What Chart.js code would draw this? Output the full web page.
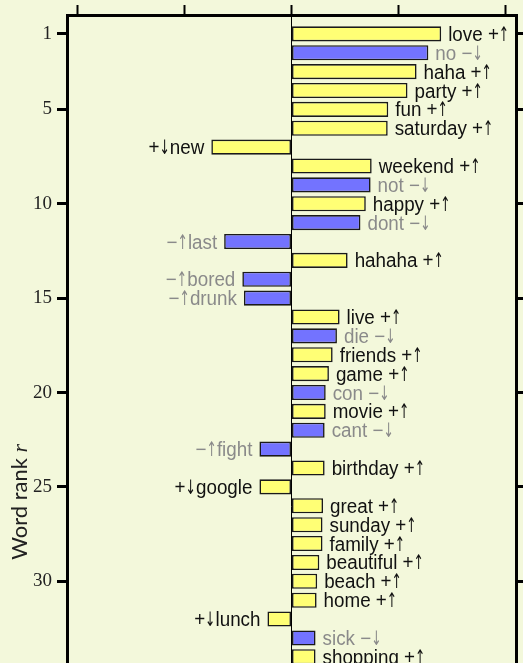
<!DOCTYPE html>
<html>
<head>
<meta charset="utf-8">
<script src="https://cdn.jsdelivr.net/npm/chart.js@4.4.1/dist/chart.umd.min.js"></script>
<style>
  html, body { margin: 0; padding: 0; background: #f3f8db; overflow: hidden; }
  #wrap { position: relative; width: 523px; height: 663px; overflow: hidden; }
  #shiftChart { position: absolute; left: 0; top: -27px; }
</style>
</head>
<body>
<div id="wrap"><canvas id="shiftChart" width="530" height="1040"></canvas></div>
<script>
// word shift: per-word contributions, ranked
const ranks = [1, 2, 3, 4, 5, 6, 7, 8, 9, 10, 11, 12, 13, 14, 15, 16, 17,
    18, 19, 20, 21, 22, 23, 24, 25, 26, 27, 28, 29, 30, 31, 32, 33, 34];
const words = ['love', 'no', 'haha', 'party', 'fun', 'saturday', 'new', 'weekend',
    'not', 'happy', 'dont', 'last', 'hahaha', 'bored', 'drunk', 'live', 'die',
    'friends', 'game', 'con', 'movie', 'cant', 'fight', 'birthday', 'google',
    'great', 'sunday', 'family', 'beautiful', 'beach', 'home', 'lunch', 'sick', 'shopping'];
const shifts = [1.40, 1.28, 1.17, 1.085, 0.905, 0.90, -0.75, 0.75,
    0.74, 0.695, 0.645, -0.63, 0.525, -0.46, -0.445, 0.45, 0.425,
    0.385, 0.35, 0.32, 0.32, 0.31, -0.30, 0.31, -0.30,
    0.295, 0.29, 0.29, 0.26, 0.24, 0.235, -0.225, 0.225, 0.225];
const signs = ['+', '−', '+', '+', '+', '+', '+', '+',
    '−', '+', '−', '−', '+', '−', '−', '+', '−',
    '+', '+', '−', '+', '−', '−', '+', '+',
    '+', '+', '+', '+', '+', '+', '+', '−', '+'];
const arrows = ['↑', '↓', '↑', '↑', '↑', '↑', '↓', '↑',
    '↓', '↑', '↓', '↑', '↑', '↑', '↑', '↑', '↓',
    '↑', '↑', '↓', '↑', '↓', '↑', '↑', '↓',
    '↑', '↑', '↑', '↑', '↑', '↑', '↓', '↓', '↑'];
const rankTicks = [1, 5, 10, 15, 20, 25, 30, 35, 40, 45, 50];
const shiftTicks = [-2, -1, 0, 1, 2];

const YELLOW = '#ffff75';
const BLUE = '#7373ff';
const TEXT_FONT = '20px "Liberation Sans", Arial, sans-serif';
const ARROW_FONT = '20px "DejaVu Sans", sans-serif';
const SQUEEZE = 0.94;
const ARROW_SQUEEZE = 0.62;

// draws one run of text, squeezed horizontally, returns its width
function drawRun(c, txt, font, sx, x, y) {
    c.font = font;
    const w = c.measureText(txt).width * sx;
    c.save();
    c.translate(x, y);
    c.scale(sx, 1);
    c.textAlign = 'left';
    c.fillText(txt, 0, 0);
    c.restore();
    return w;
}

function runWidth(c, txt, font, sx) {
    c.font = font;
    return c.measureText(txt).width * sx;
}

// word labels next to each bar
const wordLabels = {
    id: 'wordLabels',
    afterDatasetsDraw(chart) {
        const c = chart.ctx;
        const meta = chart.getDatasetMeta(0);
        c.save();
        c.textBaseline = 'alphabetic';
        meta.data.forEach((bar, i) => {
            const pos = shifts[i] >= 0;
            c.fillStyle = signs[i] === '+' ? '#111' : '#8a8a8a';
            const y = bar.y + 7;
            if (pos) {
                let x = bar.x + 7;
                x += drawRun(c, words[i] + ' ' + signs[i], TEXT_FONT, SQUEEZE, x, y);
                drawRun(c, arrows[i], ARROW_FONT, ARROW_SQUEEZE, x, y);
            } else {
                const wSign = runWidth(c, signs[i], TEXT_FONT, SQUEEZE);
                const wArrow = runWidth(c, arrows[i], ARROW_FONT, ARROW_SQUEEZE);
                const wWord = runWidth(c, words[i], TEXT_FONT, SQUEEZE);
                let x = bar.x - 7 - (wSign + wArrow + wWord);
                x += drawRun(c, signs[i], TEXT_FONT, SQUEEZE, x, y);
                x += drawRun(c, arrows[i], ARROW_FONT, ARROW_SQUEEZE, x, y);
                drawRun(c, words[i], TEXT_FONT, SQUEEZE, x, y);
            }
        });
        c.restore();
    }
};

// rotated y title with italic r
const rankTitle = {
    id: 'rankTitle',
    afterDraw(chart) {
        const c = chart.ctx;
        const area = chart.chartArea;
        const cy = (area.top + area.bottom) / 2 - 4;
        c.save();
        c.translate(27, cy);
        c.rotate(-Math.PI / 2);
        c.fillStyle = '#222';
        c.textBaseline = 'alphabetic';
        const f1 = '22px Lato, "Noto Sans", sans-serif';
        const f2 = 'italic 22px "Liberation Serif", serif';
        c.font = f1;
        const w1 = c.measureText('Word rank ').width;
        c.font = f2;
        const w2 = c.measureText('r').width;
        const x0 = -(w1 + w2) / 2;
        c.font = f1;
        c.textAlign = 'left';
        c.fillText('Word rank ', x0, 0);
        c.font = f2;
        c.fillText('r', x0 + w1, 0);
        c.restore();
    }
};

const rankAxis = {
    type: 'linear',
    reverse: true,
    min: 0,
    max: 52,
    offset: false,
    afterBuildTicks: s => { s.ticks = rankTicks.map(v => ({ value: v })); },
    border: { color: '#000', width: 3 }
};

const ctx = document.getElementById('shiftChart').getContext('2d');
const shiftChart = new Chart(ctx, {
    type: 'bar',
    data: {
        datasets: [{
            data: shifts.map((v, i) => ({ x: v, y: ranks[i] })),
            backgroundColor: signs.map(s => s === '+' ? YELLOW : BLUE),
            borderColor: '#1a1a1a',
            borderWidth: 1.6,
            borderSkipped: false,
            barPercentage: 0.8,
            categoryPercentage: 1
        }]
    },
    options: {
        indexAxis: 'y',
        responsive: false,
        animation: false,
        layout: { padding: 0 },
        plugins: {
            legend: { display: false },
            tooltip: { enabled: false }
        },
        scales: {
            x: {
                type: 'linear',
                position: 'top',
                min: -2.1,
                max: 2.1,
                afterBuildTicks: s => { s.ticks = shiftTicks.map(v => ({ value: v })); },
                afterFit: s => { s.height = 42; },
                ticks: { display: false },
                grid: {
                    drawOnChartArea: true,
                    color: c => (c.tick && c.tick.value === 0) ? '#000' : 'rgba(0,0,0,0)',
                    lineWidth: 1,
                    tickColor: '#000',
                    tickWidth: 2,
                    tickLength: 10
                },
                border: { color: '#000', width: 3 },
                title: {
                    display: true,
                    text: 'Per word average happiness shift δh_avg,r (%)',
                    color: '#999',
                    font: { size: 20, family: '"Liberation Sans", Arial, sans-serif' },
                    padding: { top: 4, bottom: 0 }
                }
            },
            y: {
                ...rankAxis,
                position: 'left',
                afterFit: s => { s.width = 67; },
                ticks: {
                    color: '#222',
                    padding: 5,
                    font: { size: 19, family: '"Liberation Serif", "Times New Roman", serif' }
                },
                grid: {
                    offset: false,
                    drawOnChartArea: false,
                    tickColor: '#000',
                    tickWidth: 3,
                    tickLength: 10
                }
            },
            y2: {
                ...rankAxis,
                position: 'right',
                afterFit: s => { s.width = 14; },
                ticks: { display: false },
                grid: {
                    offset: false,
                    drawOnChartArea: false,
                    tickColor: '#000',
                    tickWidth: 3,
                    tickLength: 8
                }
            }
        }
    },
    plugins: [wordLabels, rankTitle]
});
</script>
</body>
</html>
